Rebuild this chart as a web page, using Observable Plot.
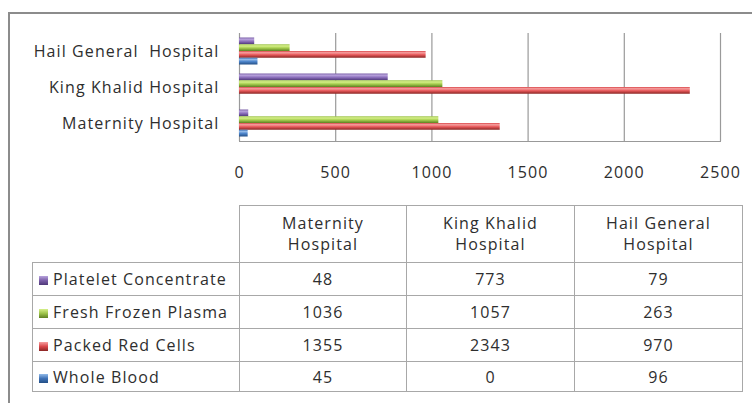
<!DOCTYPE html>
<html>
<head>
<meta charset="utf-8">
<script src="https://cdn.jsdelivr.net/npm/d3@7"></script>
<script src="https://cdn.jsdelivr.net/npm/@observablehq/plot@0.6"></script>
<style>
  html, body { margin: 0; padding: 0; background: #fff; }
  #wrap { position: relative; width: 752px; height: 403px; overflow: hidden; background: #fff; }
  #frame { position: absolute; left: 8px; top: 12px; width: 800px; height: 500px;
           border-left: 2px solid #8c8c8c; border-top: 2px solid #8c8c8c; box-sizing: border-box; }
  #chart { position: absolute; left: 0; top: 0; }
  #chart svg text { white-space: pre; fill: #2e2e2e; letter-spacing: 1.1px; }
  table { position: absolute; left: 32px; top: 205px; border-collapse: collapse; table-layout: fixed;
          font-family: 'Open Sans', sans-serif; font-size: 16px; letter-spacing: 1.1px; color: #2e2e2e; }
  td { border: 1px solid #a8a8a8; text-align: center; padding: 0; white-space: nowrap; }
  td.blank { border-top: none; border-left: none; }
  td.rh { text-align: left; padding-left: 6px; }
  tr.head td { height: 56px; line-height: 21px; }
  tr.row td { height: 32px; }
  tr.row.last td { height: 29px; }
  .sw { display: inline-block; width: 9px; height: 9px; margin-right: 5px; vertical-align: 0px; }
</style>
</head>
<body>
<svg width="0" height="0" style="position:absolute">
  <defs>
    <linearGradient id="gPurple" x1="0" y1="0" x2="0" y2="1">
      <stop offset="0" stop-color="#7a5ea8"/><stop offset="0.25" stop-color="#b8a3dc"/>
      <stop offset="0.55" stop-color="#8f72bf"/><stop offset="1" stop-color="#4e3878"/>
    </linearGradient>
    <linearGradient id="gGreen" x1="0" y1="0" x2="0" y2="1">
      <stop offset="0" stop-color="#9cc24a"/><stop offset="0.25" stop-color="#d6f08a"/>
      <stop offset="0.55" stop-color="#a8d050"/><stop offset="1" stop-color="#5d7f22"/>
    </linearGradient>
    <linearGradient id="gRed" x1="0" y1="0" x2="0" y2="1">
      <stop offset="0" stop-color="#d9474a"/><stop offset="0.25" stop-color="#f6a0a0"/>
      <stop offset="0.55" stop-color="#e8595b"/><stop offset="1" stop-color="#8a2624"/>
    </linearGradient>
    <linearGradient id="gBlue" x1="0" y1="0" x2="0" y2="1">
      <stop offset="0" stop-color="#3f72b6"/><stop offset="0.25" stop-color="#93bbe9"/>
      <stop offset="0.55" stop-color="#4f86cc"/><stop offset="1" stop-color="#234f86"/>
    </linearGradient>
  </defs>
</svg>
<div id="wrap">
  <div id="frame"></div>
  <div id="chart"></div>
</div>
<script>
// ---- data ----
const hospitals = ["Maternity Hospital", "King Khalid Hospital", "Hail General Hospital"];
const chartLabels = ["Maternity Hospital", "King Khalid Hospital", "Hail General  Hospital"];
const headerLabels = [["Maternity", "Hospital"], ["King Khalid", "Hospital"], ["Hail General", "Hospital"]];
const series = ["Platelet Concentrate", "Fresh Frozen Plasma", "Packed Red Cells", "Whole Blood"];
const plateletConcentrate = [48, 773, 79];
const freshFrozenPlasma = [1036, 1057, 263];
const packedRedCells = [1355, 2343, 970];
const wholeBlood = [45, 0, 96];
const xTicks = [0, 500, 1000, 1500, 2000, 2500];
const seriesFills = ["url(#gPurple)", "url(#gGreen)", "url(#gRed)", "url(#gBlue)"];
const swatchCss = [
  "linear-gradient(#b8a3dc,#7a5ea8 50%,#4e3878)",
  "linear-gradient(#d6f08a,#9cc24a 50%,#5d7f22)",
  "linear-gradient(#f6a0a0,#d9474a 50%,#8a2624)",
  "linear-gradient(#93bbe9,#3f72b6 50%,#234f86)"
];

const valuesBySeries = [plateletConcentrate, freshFrozenPlasma, packedRedCells, wholeBlood];
const rows = [];
series.forEach((s, si) => hospitals.forEach((h, hi) => {
  rows.push({hospital: chartLabels[hi], series: s, value: valuesBySeries[si][hi]});
}));

const chart = Plot.plot({
  width: 752,
  height: 190,
  marginLeft: 239,
  marginRight: 32,
  marginTop: 33,
  marginBottom: 49,
  style: {fontFamily: "'Open Sans', sans-serif", fontSize: "16px", color: "#999", background: "transparent"},
  facet: {data: rows, y: "hospital", marginRight: 32},
  fy: {domain: chartLabels.slice().reverse(), padding: 0, label: null, axis: "left", tickSize: 0, tickPadding: 20},
  x: {domain: [0, 2500], ticks: xTicks, tickFormat: d => String(d), tickSize: 0, tickPadding: 25, label: null, line: true},
  y: {domain: series, axis: null, paddingInner: 0, paddingOuter: 0.667, round: false},
  color: {domain: series, range: seriesFills},
  marks: [
    Plot.ruleX(xTicks, {stroke: "#9a9a9a", strokeWidth: 1.2}),
    Plot.barX(rows, {x: "value", y: "series", fill: "series", inset: 0})
  ]
});
document.getElementById("chart").appendChild(chart);
// nudge facet labels down slightly to match the reference baseline
const fyAxis = chart.querySelector('[aria-label="fy-axis"]');
if (fyAxis) {
  const t = fyAxis.getAttribute("transform") || "";
  fyAxis.setAttribute("transform", (t + " translate(0,1.5)").trim());
}

// ---- data table ----
const table = document.createElement("table");
const colgroup = document.createElement("colgroup");
[207, 167, 168, 168].forEach(w => { const c = document.createElement("col"); c.style.width = w + "px"; colgroup.appendChild(c); });
table.appendChild(colgroup);
const head = document.createElement("tr");
head.className = "head";
const blank = document.createElement("td"); blank.className = "blank"; head.appendChild(blank);
headerLabels.forEach(lines => { const td = document.createElement("td"); td.innerHTML = lines.join("<br>"); head.appendChild(td); });
table.appendChild(head);
series.forEach((s, si) => {
  const tr = document.createElement("tr");
  tr.className = "row" + (si === series.length - 1 ? " last" : "");
  const th = document.createElement("td"); th.className = "rh";
  const sw = document.createElement("span"); sw.className = "sw"; sw.style.background = swatchCss[si];
  th.appendChild(sw); th.appendChild(document.createTextNode(s));
  tr.appendChild(th);
  valuesBySeries[si].forEach(v => { const td = document.createElement("td"); td.textContent = v; tr.appendChild(td); });
  table.appendChild(tr);
});
document.getElementById("wrap").appendChild(table);
</script>
</body>
</html>
